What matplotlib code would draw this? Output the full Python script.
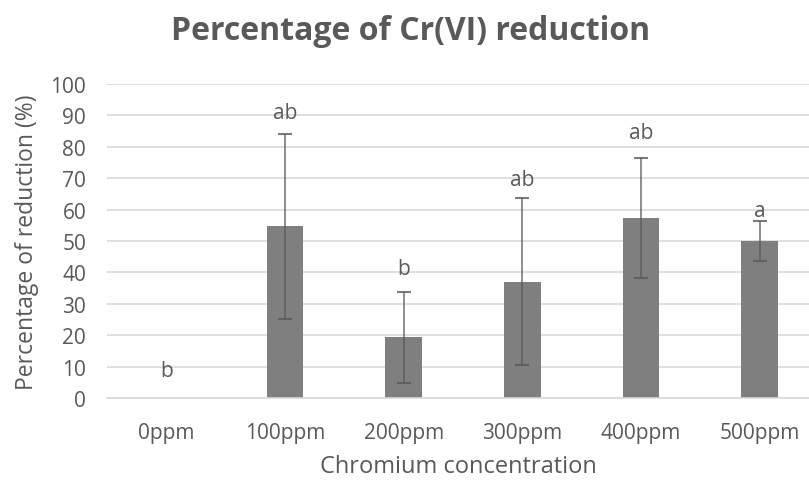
import numpy as np
import matplotlib.pyplot as plt

# data
concentrations = ['0ppm', '100ppm', '200ppm', '300ppm', '400ppm', '500ppm']
reduction = [0, 54.7, 19.3, 37.0, 57.3, 50.0]
reduction_err = [0, 29.5, 14.6, 26.6, 19.2, 6.3]
letters = ['b', 'ab', 'b', 'ab', 'ab', 'a']
letter_y = [8.6, 90.8, 41.1, 69.7, 84.4, 59.6]

plt.rcParams['font.family'] = ['Open Sans', 'DejaVu Sans']
text_col = '#595959'

fig = plt.figure(figsize=(8.09, 4.81), dpi=100)
ax = fig.add_axes([107 / 809, 1 - 399 / 481, 702 / 809, 314 / 481])

x = np.arange(len(concentrations))
ax.bar(x, reduction, width=0.31, color='#7f7f7f', zorder=2)

# no error bar where there is no error (0ppm)
has_err = [e > 0 for e in reduction_err]
ax.errorbar(x[has_err], np.array(reduction)[has_err],
            yerr=np.array(reduction_err)[has_err], fmt='none', ecolor='#595959',
            elinewidth=1.2, capsize=5, capthick=1.5, alpha=0.8, zorder=3)

for xi, lab, ly in zip(x, letters, letter_y):
    ax.text(xi, ly, lab, ha='center', va='center', fontsize=15, color=text_col)

ax.set_xlim(-0.5, 5.5 - 10 / 118.7)
ax.set_ylim(0, 100)
ax.set_yticks(range(0, 101, 10))
ax.set_xticks(x)
ax.set_xticklabels(concentrations)
ax.tick_params(axis='both', length=0, labelsize=15, colors=text_col)
ax.tick_params(axis='x', pad=17)
ax.tick_params(axis='y', pad=15)
ax.yaxis.grid(True, color='#d9d9d9', linewidth=1.2, zorder=0)
ax.set_axisbelow(True)
for s in ['top', 'right', 'left']:
    ax.spines[s].set_visible(False)
ax.spines['bottom'].set_color('#d9d9d9')
ax.spines['bottom'].set_linewidth(1.2)

ax.set_ylabel('Percentage of reduction (%)', fontsize=16.5, color=text_col, labelpad=8)
ax.set_xlabel('Chromium concentration', fontsize=17, color=text_col, labelpad=8)
fig.text(0.507, 1 - 31 / 481, 'Percentage of Cr(VI) reduction', ha='center', va='center',
         fontsize=23, fontweight='bold', color=text_col)

fig.savefig('out.png', dpi=100)
